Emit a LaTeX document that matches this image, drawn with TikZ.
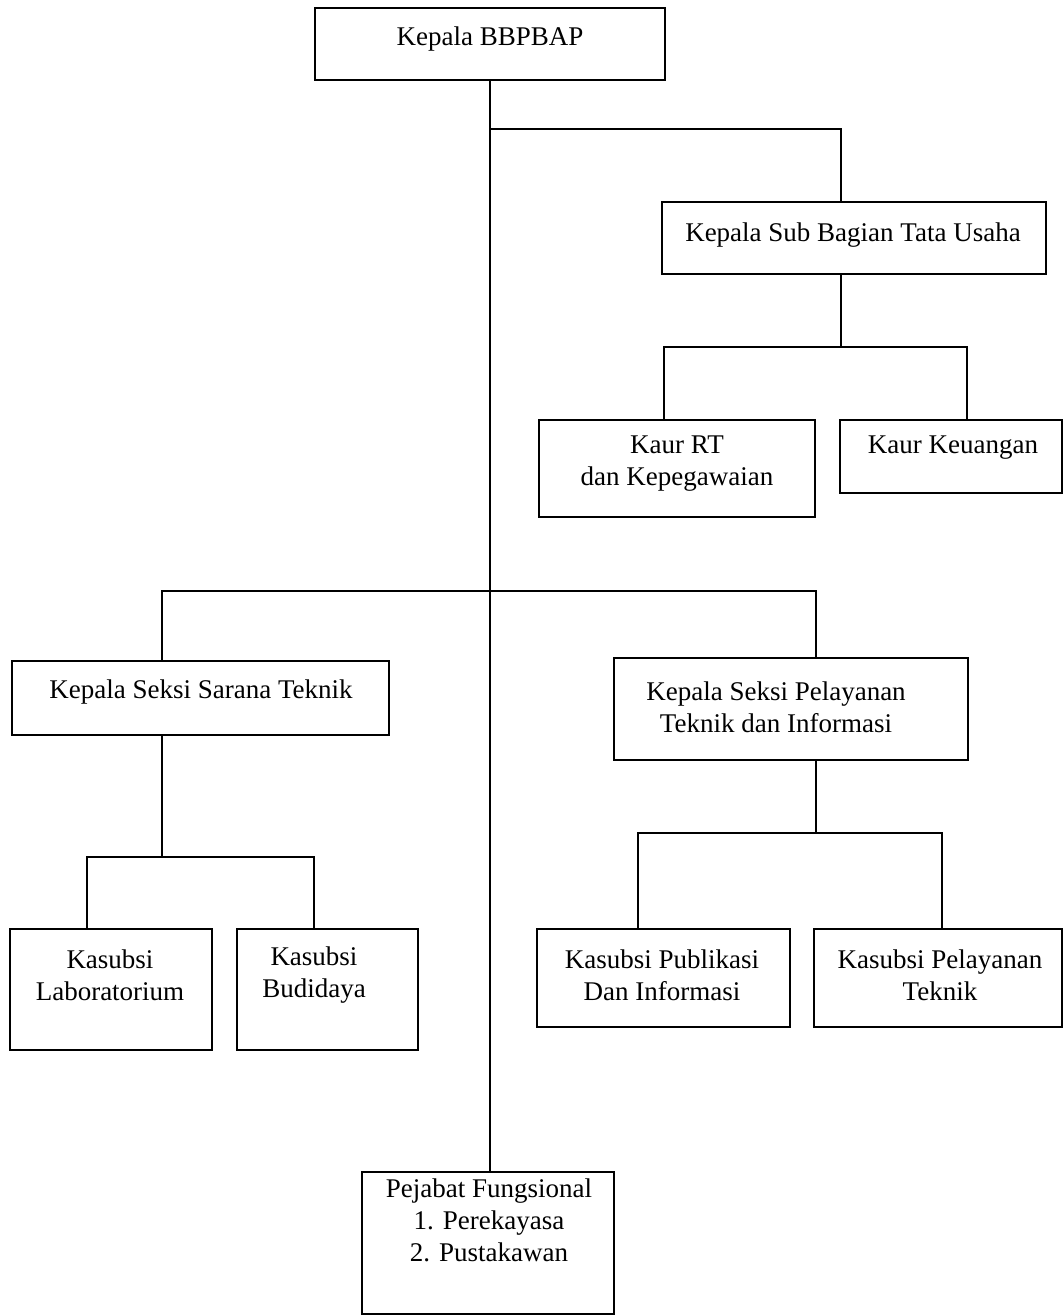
\documentclass[tikz,border=0pt]{standalone}
\usepackage{fontspec}
\setmainfont{Liberation Serif}
\begin{document}
\begin{tikzpicture}[x=0.5pt,y=-0.5pt,
  box/.style={draw, line width=1.4pt, rectangle, anchor=north west, inner sep=0pt, outer sep=0pt},
  lbl/.style={align=center, inner sep=0pt, font=\fontsize{13.5}{16}\selectfont},
  conn/.style={line width=1.4pt}]
\useasboundingbox (0,0) rectangle (1064,1316);
% boxes
\node[box, minimum width=175pt, minimum height=36pt] (top) at (315,8) {};
\node[box, minimum width=192pt, minimum height=36pt] (sub) at (662,202) {};
\node[box, minimum width=138pt, minimum height=48.5pt] (rt) at (539,420) {};
\node[box, minimum width=111pt, minimum height=36.5pt] (keu) at (840,420) {};
\node[box, minimum width=188.5pt, minimum height=37pt] (sar) at (12,661) {};
\node[box, minimum width=177pt, minimum height=51pt] (pel) at (614,658) {};
\node[box, minimum width=101pt, minimum height=60.5pt] (lab) at (10,929) {};
\node[box, minimum width=90.5pt, minimum height=60.5pt] (bud) at (237,929) {};
\node[box, minimum width=126.5pt, minimum height=49pt] (pub) at (537,929) {};
\node[box, minimum width=124pt, minimum height=49pt] (ptk) at (814,929) {};
\node[box, minimum width=126pt, minimum height=71pt] (pej) at (362,1172) {};
% labels
\node[lbl] (topT) at (490,39) {Kepala BBPBAP};
\node[lbl] (subT) at (853,235) {Kepala Sub Bagian Tata Usaha};
\node[lbl] (rtT) at (677,464) {Kaur RT\\dan Kepegawaian};
\node[lbl] (keuT) at (953,448) {Kaur Keuangan};
\node[lbl] (sarT) at (201,692) {Kepala Seksi Sarana Teknik};
\node[lbl] (pelT) at (776,707) {Kepala Seksi Pelayanan\\Teknik dan Informasi};
\node[lbl] (labT) at (110,975) {Kasubsi\\Laboratorium};
\node[lbl] (budT) at (314,975) {Kasubsi\\Budidaya};
\node[lbl] (pubT) at (662,975) {Kasubsi Publikasi\\Dan Informasi};
\node[lbl] (ptkT) at (940,975) {Kasubsi Pelayanan\\Teknik};
\node[lbl] (pejT) at (489,1220) {Pejabat Fungsional\\1. Perekayasa\\2. Pustakawan};
% junction coordinates
\coordinate (a1) at (841,129);
\coordinate (b1) at (664,347);
\coordinate (b2) at (967,347);
\coordinate (c1) at (162,591);
\coordinate (c2) at (816,591);
\coordinate (d1) at (87,857);
\coordinate (d2) at (314,857);
\coordinate (e1) at (638,833);
\coordinate (e2) at (942,833);
% connectors
\draw[conn] (top.south) -- (top.south |- pej.north);
\draw[conn] (top.south |- a1) -- (a1) -- (a1 |- sub.north);
\draw[conn] (a1 |- sub.south) -- (a1 |- b1);
\draw[conn] (b1 |- rt.north) -- (b1) -- (b2) -- (b2 |- keu.north);
\draw[conn] (c1 |- sar.north) -- (c1) -- (c2) -- (c2 |- pel.north);
\draw[conn] (c1 |- sar.south) -- (c1 |- d1);
\draw[conn] (d1 |- lab.north) -- (d1) -- (d2) -- (d2 |- bud.north);
\draw[conn] (c2 |- pel.south) -- (c2 |- e1);
\draw[conn] (e1 |- pub.north) -- (e1) -- (e2) -- (e2 |- ptk.north);
\end{tikzpicture}
\end{document}
